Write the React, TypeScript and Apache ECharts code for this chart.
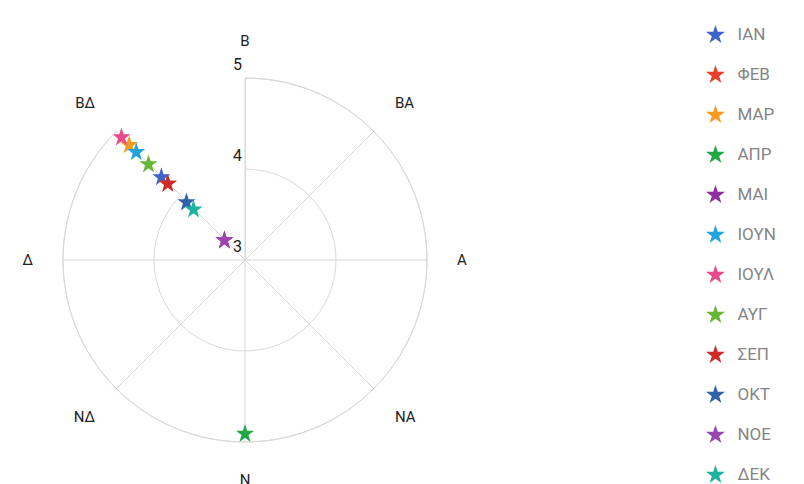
import React, { useEffect, useRef } from "react";
import * as echarts from "echarts";

const directions = ["Β", "ΒΑ", "Α", "ΝΑ", "Ν", "ΝΔ", "Δ", "ΒΔ"];
const months = ["ΙΑΝ", "ΦΕΒ", "ΜΑΡ", "ΑΠΡ", "ΜΑΙ", "ΙΟΥΝ", "ΙΟΥΛ", "ΑΥΓ", "ΣΕΠ", "ΟΚΤ", "ΝΟΕ", "ΔΕΚ"];
const monthDirection = ["ΒΔ", "ΒΔ", "ΒΔ", "Ν", "ΒΔ", "ΒΔ", "ΒΔ", "ΒΔ", "ΒΔ", "ΒΔ", "ΒΔ", "ΒΔ"];
const monthSpeed = [4.3, 4.2, 4.8, 4.9, 3.32, 4.69, 4.92, 4.5, 4.2, 3.91, 3.32, 3.8];
const monthColors = [
  "#3f64c8", "#e8412c", "#f59b23", "#22a745", "#8e2fa0", "#23a3dc",
  "#ea4a8c", "#66b534", "#cf2a2a", "#2f62a8", "#9b45b0", "#20b2a0",
];
const radiusTicks = [3, 4, 5];

const STAR = "path://M50,0 L61.8,35.5 L99,35.5 L69,57.5 L80.5,93 L50,71 L19.5,93 L31,57.5 L1,35.5 L38.2,35.5 Z";

export default function App() {
  const ref = useRef<HTMLDivElement>(null);
  useEffect(() => {
    if (!ref.current) return;
    const chart = echarts.init(ref.current, undefined, { renderer: "svg" });
    const font = "Roboto, 'Noto Sans', sans-serif";
    chart.setOption({
      animation: false,
      textStyle: { fontFamily: font },
      polar: { center: [245, 260], radius: 182 },
      angleAxis: {
        type: "category",
        data: directions,
        startAngle: 90,
        clockwise: true,
        boundaryGap: false,
        axisLine: { lineStyle: { color: "#d9d9d9", width: 1 } },
        axisTick: { show: false },
        axisLabel: { margin: 30, color: "#222", fontSize: 15, fontFamily: font },
        splitLine: { show: true, lineStyle: { color: "#d9d9d9", width: 1 } },
      },
      radiusAxis: {
        type: "value",
        min: radiusTicks[0],
        max: radiusTicks[radiusTicks.length - 1],
        interval: 1,
        axisLine: { show: true, lineStyle: { color: "#d9d9d9" } },
        axisTick: { show: false },
        axisLabel: {
          color: "#222",
          fontSize: 16,
          fontFamily: font,
          verticalAlign: "bottom",
          align: "right",
          margin: 3,
          padding: [0, 0, 6, 0],
        },
        splitLine: { show: true, lineStyle: { color: "#d9d9d9", width: 1 } },
        z: 10,
      },
      legend: {
        orient: "vertical",
        left: 706,
        top: 25,
        height: 470,
        padding: 0,
        itemWidth: 34,
        itemHeight: 18,
        itemGap: 22,
        icon: STAR,
        textStyle: { color: "#858585", fontSize: 17, fontFamily: font },
        data: months,
      },
      series: months.map((m, i) => ({
        name: m,
        type: "scatter",
        coordinateSystem: "polar",
        symbol: STAR,
        symbolSize: 18,
        itemStyle: { color: monthColors[i], opacity: 1 },
        color: monthColors[i],
        data: [[monthSpeed[i], monthDirection[i]]],
      })),
    });
    return () => chart.dispose();
  }, []);
  return (
    <div
      ref={ref}
      style={{ position: "fixed", left: 0, top: 0, width: 804, height: 484, background: "#fff" }}
    />
  );
}
